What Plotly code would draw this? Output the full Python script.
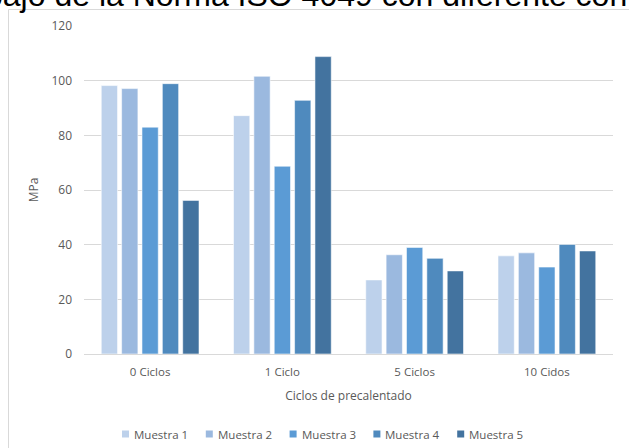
import plotly.graph_objects as go

# Flexural strength per preheating cycle group
categorias = ["0 Ciclos", "1 Ciclo", "5 Ciclos", "10 Cidos"]
muestras = ["Muestra 1", "Muestra 2", "Muestra 3", "Muestra 4", "Muestra 5"]
valores = [
    [98.2, 87.2, 27.1, 35.9],   # Muestra 1
    [97.1, 101.6, 36.3, 37.0],  # Muestra 2
    [83.0, 68.7, 39.0, 31.8],   # Muestra 3
    [98.9, 92.8, 35.0, 40.1],   # Muestra 4
    [56.2, 108.8, 30.4, 37.7],  # Muestra 5
]
colores = ["#BDD1EB", "#9BB9DF", "#5B9BD5", "#4F8ABE", "#43739F"]
y_ticks = [0, 20, 40, 60, 80, 100, 120]

W, H = 629, 448
L, R, T, B = 84, 16, 26, 94

fig = go.Figure()
for nombre, vals, col in zip(muestras, valores, colores):
    fig.add_trace(go.Bar(
        name=nombre, x=categorias, y=vals,
        marker=dict(color=col, line=dict(color="rgba(255,255,255,0.7)", width=0.8)),
    ))


def px_x(p):
    return (p - L) / (W - L - R)


def px_y(p):
    return (H - B - p) / (H - T - B)


# Compact legend row below the axis title: small swatch + label per series
shapes = [
    dict(type="rect", xref="paper", yref="paper",
         x0=px_x(8.5), x1=px_x(660), y0=px_y(480), y1=px_y(9.5),
         line=dict(color="#D9D9D9", width=1), fillcolor="rgba(0,0,0,0)",
         layer="below"),
]
annotations = [
    dict(text="bajo de la Norma ISO 4049 con diferente con",
         xref="paper", yref="paper", x=px_x(306), y=px_y(15),
         xanchor="center", yanchor="bottom", showarrow=False,
         font=dict(family="Liberation Sans, sans-serif", size=32, color="#000000")),
]
leg_x0, leg_step, leg_y, sw = 122, 83.8, 434, 7
for i, (nombre, col) in enumerate(zip(muestras, colores)):
    x = leg_x0 + i * leg_step
    shapes.append(dict(type="rect", xref="paper", yref="paper",
                       x0=px_x(x), x1=px_x(x + sw),
                       y0=px_y(leg_y + sw / 2), y1=px_y(leg_y - sw / 2),
                       line=dict(width=0), fillcolor=col))
    annotations.append(dict(text=nombre, xref="paper", yref="paper",
                            x=px_x(x + sw + 3), y=px_y(leg_y),
                            xanchor="left", yanchor="middle", showarrow=False,
                            font=dict(size=11.5, color="#595959")))

fig.update_layout(
    width=W, height=H,
    margin=dict(l=L, r=R, t=T, b=B),
    paper_bgcolor="white", plot_bgcolor="white",
    font=dict(family="Open Sans, sans-serif", color="#595959", size=11.5),
    barmode="group", bargap=0.23, bargroupgap=0.2,
    showlegend=False,
    xaxis=dict(
        showgrid=False, showline=True, linecolor="#D9D9D9", linewidth=1,
        ticks="", tickfont=dict(size=11.5), ticklabelstandoff=7,
        title=dict(text="Ciclos de precalentado", font=dict(size=12), standoff=13),
    ),
    yaxis=dict(
        range=[0, 120], tickvals=y_ticks, showgrid=True, gridcolor="#D9D9D9",
        gridwidth=1, zeroline=False, showline=False, ticks="",
        tickfont=dict(size=12), ticklabelstandoff=11,
        title=dict(text="MPa", font=dict(size=12), standoff=10),
    ),
    shapes=shapes,
    annotations=annotations,
)

fig.write_html("out.html")
